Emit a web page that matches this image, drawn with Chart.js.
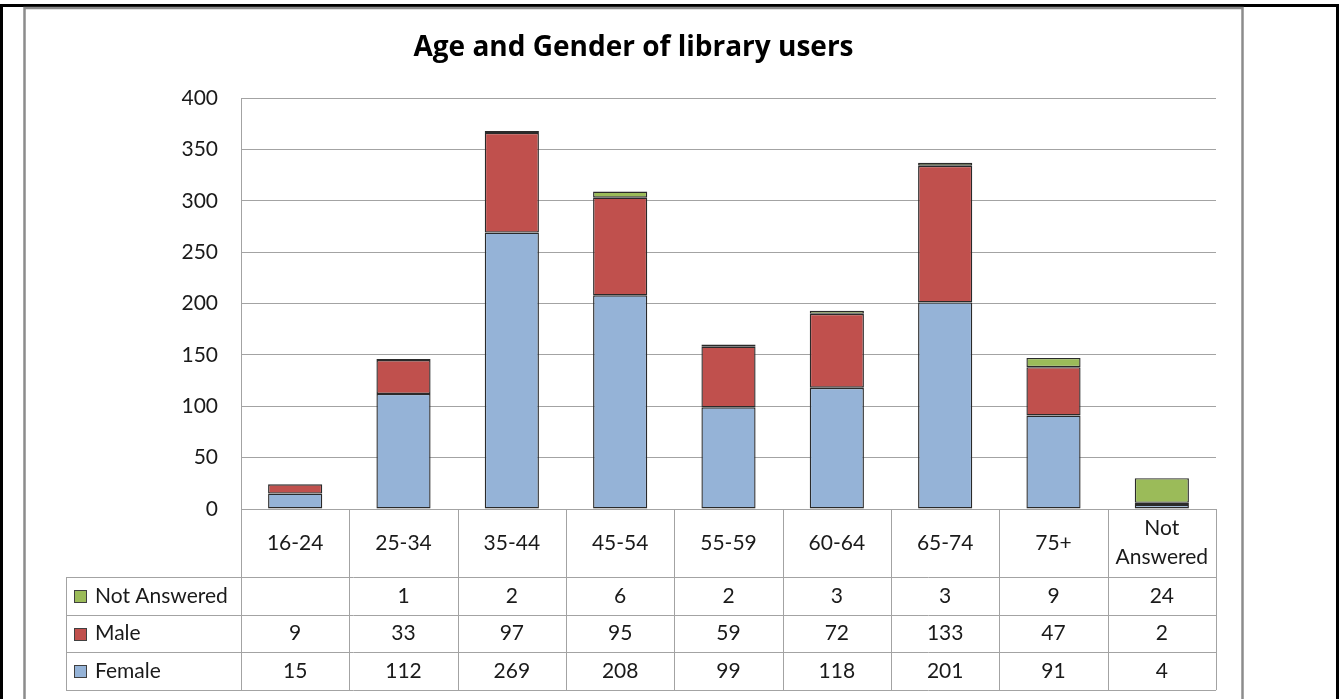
<!DOCTYPE html>
<html>
<head>
<meta charset="utf-8">
<script src="https://cdn.jsdelivr.net/npm/chart.js@4.4.1/dist/chart.umd.min.js"></script>
<style>
  html, body { margin: 0; padding: 0; background: #fff; }
  #wrap { width: 1343px; height: 699px; position: relative; }
</style>
</head>
<body>
<div id="wrap"><canvas id="chart"></canvas></div>
<script>
const categories = ["16-24", "25-34", "35-44", "45-54", "55-59", "60-64", "65-74", "75+", "Not Answered"];
const female = [15, 112, 269, 208, 99, 118, 201, 91, 4];
const male = [9, 33, 97, 95, 59, 72, 133, 47, 2];
const notAnswered = [null, 1, 2, 6, 2, 3, 3, 9, 24];
const yMin = 0;
const yMax = 400;
const yStep = 50;

const FONT = "Lato, 'Open Sans', sans-serif";
const GRID = "#a3a3a3";
const TEXT = "#1a1a1a";

const series = [
  { label: "Female", data: female, color: "#95b3d7" },
  { label: "Male", data: male, color: "#c0504d" },
  { label: "Not Answered", data: notAnswered, color: "#9bbb59" },
];

// marco exterior (negro) y borde del grafico (gris)
const framePlugin = {
  id: "frame",
  beforeDraw(chart) {
    const ctx = chart.ctx;
    ctx.save();
    ctx.fillStyle = "#fff";
    ctx.fillRect(0, 0, chart.width, chart.height);
    ctx.lineWidth = 3;
    ctx.strokeStyle = "#000";
    ctx.strokeRect(1.5, 5.5, 1336, 760);
    ctx.lineWidth = 2.5;
    ctx.strokeStyle = "#8c8c8c";
    ctx.strokeRect(24.5, 8, 1218, 760);
    ctx.restore();
  },
};

// tabla de datos debajo del eje x
const tablePlugin = {
  id: "dataTable",
  afterDraw(chart) {
    const ctx = chart.ctx;
    const area = chart.chartArea;
    const xs = chart.scales.x;
    const n = categories.length;
    const colW = (area.right - area.left) / n;
    const top = area.bottom;
    const headH = 68;
    const rowH = 37.7;
    const labelLeft = 66;
    const rows = series.slice().reverse();
    const bottom = top + headH + rowH * rows.length;

    ctx.save();
    ctx.strokeStyle = GRID;
    ctx.lineWidth = 1;
    ctx.beginPath();
    // lineas horizontales
    ctx.moveTo(area.left, Math.round(top) + 0.5);
    ctx.lineTo(area.right, Math.round(top) + 0.5);
    for (let r = 0; r <= rows.length; r++) {
      const y = Math.round(top + headH + r * rowH) + 0.5;
      ctx.moveTo(labelLeft, y);
      ctx.lineTo(area.right, y);
    }
    // lineas verticales
    for (let i = 0; i <= n; i++) {
      const x = Math.round(area.left + i * colW) + 0.5;
      ctx.moveTo(x, top);
      ctx.lineTo(x, bottom);
    }
    ctx.moveTo(labelLeft + 0.5, top + headH);
    ctx.lineTo(labelLeft + 0.5, bottom);
    ctx.stroke();

    ctx.fillStyle = TEXT;
    ctx.font = "21px " + FONT;
    ctx.textAlign = "center";
    ctx.textBaseline = "middle";

    // cabecera con categorias
    categories.forEach((cat, i) => {
      const cx = xs.getPixelForValue(i);
      const cy = top + headH / 2;
      if (ctx.measureText(cat).width > colW - 6 && cat.includes(" ")) {
        const parts = cat.split(" ");
        ctx.fillText(parts[0], cx, cy - 15);
        ctx.fillText(parts.slice(1).join(" "), cx, cy + 14);
      } else {
        ctx.fillText(cat, cx, cy);
      }
    });

    // filas por serie
    rows.forEach((s, r) => {
      const cy = top + headH + r * rowH + rowH / 2;
      // llave de leyenda
      ctx.fillStyle = s.color;
      ctx.fillRect(74, Math.round(cy - 6) , 13, 13);
      ctx.strokeStyle = "#404040";
      ctx.strokeRect(74.5, Math.round(cy - 6) + 0.5, 12, 12);
      ctx.fillStyle = TEXT;
      ctx.textAlign = "left";
      ctx.fillText(s.label, 95, cy);
      ctx.textAlign = "center";
      s.data.forEach((v, i) => {
        if (v === null) return;
        ctx.fillText(String(v), xs.getPixelForValue(i), cy);
      });
    });
    ctx.restore();
  },
};

const ctx = document.getElementById("chart").getContext("2d");
new Chart(ctx, {
  type: "bar",
  data: {
    labels: categories,
    datasets: series.map((s) => ({
      label: s.label,
      data: s.data,
      backgroundColor: s.color,
      borderColor: "#2a2a2a",
      borderWidth: 1.4,
      borderSkipped: false,
      barPercentage: 0.5,
      categoryPercentage: 1,
    })),
  },
  options: {
    responsive: true,
    maintainAspectRatio: false,
    animation: false,
    layout: { padding: { left: 24, right: 100, top: 0, bottom: 0 } },
    plugins: {
      legend: { display: false },
      tooltip: { enabled: false },
      title: {
        display: true,
        text: "Age and Gender of library users",
        color: "#000",
        font: { family: "'Open Sans', Lato, sans-serif", size: 28, weight: "bold" },
        padding: { top: 31, bottom: 33.4 },
      },
    },
    scales: {
      x: {
        stacked: true,
        grid: { display: false },
        border: { display: false },
        ticks: { display: false },
        afterFit(scale) { scale.height = 190; },
      },
      y: {
        stacked: true,
        min: yMin,
        max: yMax,
        ticks: {
          stepSize: yStep,
          color: TEXT,
          padding: 23,
          font: { family: FONT, size: 21 },
        },
        grid: { color: GRID, drawTicks: false },
        border: { color: GRID },
        afterFit(scale) { scale.width = 217; },
      },
      // eje vacio a la derecha para dejar el hueco del area de trazado
      pad: {
        type: "linear",
        position: "right",
        grid: { display: false },
        border: { display: false },
        ticks: { display: false },
        afterFit(scale) { scale.width = 27; },
      },
    },
  },
  plugins: [framePlugin, tablePlugin],
});
</script>
</body>
</html>
